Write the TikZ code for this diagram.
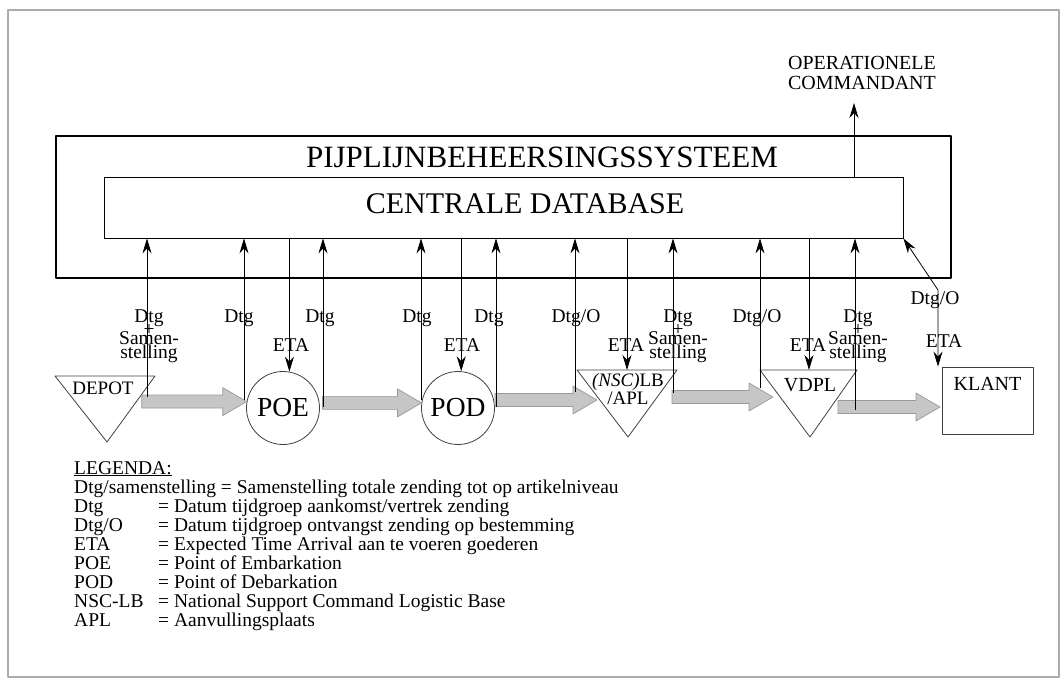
\documentclass[tikz,border=0pt]{standalone}
\usepackage{fontspec}
\setmainfont{Liberation Serif}
\usetikzlibrary{arrows.meta,calc,positioning}

% fat shipment arrow: tip point, total length
\newcommand\fatarrow[2]{%
  \path[fat] (#1) -- ++(-24,-14) -- ++(0,7.5) -- ++({24-#2},0) -- ++(0,13)
    -- ++({#2-24},0) -- ++(0,7.5) -- cycle;}
\newcommand\dtgsam{\smash{Dtg}\\[-1.4pt]\smash{+}\\[-4.6pt]\smash{Samen-}\\stelling}

\begin{document}
\begin{tikzpicture}[x=1pt,y=-1pt,line join=round,
  feed/.style={-{Stealth[length=15pt,width=9pt]},line width=0.8pt},
  lbl/.style={font=\fontsize{19.5}{14}\selectfont,inner sep=0pt,align=center,anchor=base},
  stop/.style={draw=black!75,circle,line width=0.8pt,minimum size=73pt,inner sep=0pt,font=\fontsize{27.5}{30}\selectfont},
  place/.style={font=\fontsize{19}{18}\selectfont,inner sep=0pt,align=center},
  outline/.style={draw=black!75,line width=0.8pt},
  fat/.style={draw=gray!80,fill=gray!45,line width=0.7pt},
  legend/.style={font=\fontsize{19.5}{19}\selectfont,inner sep=0pt,anchor=base west}]

  \useasboundingbox (0,0) rectangle (1061,679);
  \draw[gray!65,line width=1.5pt] (8,10) rectangle (1059,677);

  % --- pipeline system and central database ---
  \node[draw,line width=1.8pt,minimum width=895pt,minimum height=142pt] (sys) at (503.5,207) {};
  \node[font=\fontsize{31}{31}\selectfont,inner sep=0pt,anchor=base] (systitle) at (542,168) {PIJPLIJNBEHEERSINGSSYSTEEM};
  \node[draw,line width=0.8pt,minimum width=799pt,minimum height=61pt] (db) at (503.5,207.5) {};
  \node[font=\fontsize{30}{30}\selectfont,inner sep=0pt,anchor=base] (dbtitle) at (525,214) {CENTRALE DATABASE};

  % --- stations ---
  \node[place] (depot) at (103,388) {DEPOT};
  \draw[outline] (55,376) -- (155,376) -- (107,442) -- cycle;
  \node[stop] (poe) at (283,408) {POE};
  \node[stop] (pod) at (458,408) {POD};
  \node[place] (nsc) at (628,389) {\textit{(NSC)}LB\\/APL};
  \draw[outline] (577,370) -- (677,370) -- (628,437) -- cycle;
  \node[place,font=\fontsize{20}{20}\selectfont] (vdpl) at (810,385) {VDPL};
  \draw[outline] (760,370) -- (857,370) -- (810,437) -- cycle;
  \node[outline,minimum width=91pt,minimum height=67pt] (klant) at (987.5,400.5) {};
  \node[place,font=\fontsize{20}{20}\selectfont,below=10pt of klant.north] (klanttxt) {KLANT};
  \node[place,font=\fontsize{20}{20}\selectfont] (oper) at (862,72.5) {OPERATIONELE\\COMMANDANT};

  % --- shipments ---
  \coordinate (nscin) at (597,400);
  \coordinate (vdplin) at (773,397);
  \coordinate (klantin) at (940,407);
  \fatarrow{poe.170}{105}
  \fatarrow{pod.172}{99}
  \fatarrow{nscin}{102}
  \fatarrow{vdplin}{101}
  \fatarrow{klantin}{102}

  % --- reports to the database ---
  \foreach \n/\x/\y in {out1/147/397, in2/244/400, out2/323/407, in3/421/400, out3/496/407,
                        in4/575/392, out4/673/393, in5/760/388, out5/855/410}{
    \coordinate (\n) at (\x,\y);
    \draw[feed] (\n) -- (\n |- db.south);}

  % --- ETA down to the stations ---
  \coordinate (eta4) at (627,370);
  \coordinate (eta5) at (809,370);
  \foreach \n in {poe.80, pod.85, eta4, eta5}
    \draw[feed] (\n |- db.south) -- (\n);

  \coordinate (kbend) at (938,290);
  \draw[{Stealth[length=15pt,width=9pt]}-{Stealth[length=15pt,width=9pt]},line width=0.8pt]
    (db.south east) -- (kbend) -- (kbend |- klant.north);
  \coordinate (opin) at (854,103);
  \draw[feed] (opin |- db.north) -- (opin);

  % --- labels ---
  \node[lbl] (l1) at (149,359) {\dtgsam};
  \node[lbl] (l2) at (239,323) {Dtg};
  \node[lbl] (l3) at (291,351) {ETA};
  \node[lbl] (l4) at (320,323) {Dtg};
  \node[lbl] (l5) at (417,323) {Dtg};
  \node[lbl] (l6) at (462,351) {ETA};
  \node[lbl] (l7) at (489,323) {Dtg};
  \node[lbl] (l8) at (576,323) {Dtg/O};
  \node[lbl] (l9) at (626,352) {ETA};
  \node[lbl] (l10) at (678,359) {\dtgsam};
  \node[lbl] (l11) at (757,323) {Dtg/O};
  \node[lbl] (l12) at (808,352) {ETA};
  \node[lbl] (l13) at (858,359) {\dtgsam};
  \node[lbl] (l14) at (935,305) {Dtg/O};
  \node[lbl] (l15) at (944,348) {ETA};

  % --- legend ---
  \node[legend] (leg) at (74,474) {\underline{LEGENDA:}};
  \node[legend] (leg0) at (74,493) {Dtg/samenstelling = Samenstelling totale zending tot op artikelniveau};
  \foreach \k/\d [count=\i] in {Dtg/{Datum tijdgroep aankomst/vertrek zending},
      {Dtg/O}/{Datum tijdgroep ontvangst zending op bestemming},
      ETA/{Expected Time Arrival aan te voeren goederen},
      POE/{Point of Embarkation}, POD/{Point of Debarkation},
      NSC-LB/{National Support Command Logistic Base}, APL/{Aanvullingsplaats}}{
    \node[legend] (key\i) at (74,{493+19*\i}) {\k};
    \node[legend] (def\i) at (158,{493+19*\i}) {= \d};}
\end{tikzpicture}
\end{document}
